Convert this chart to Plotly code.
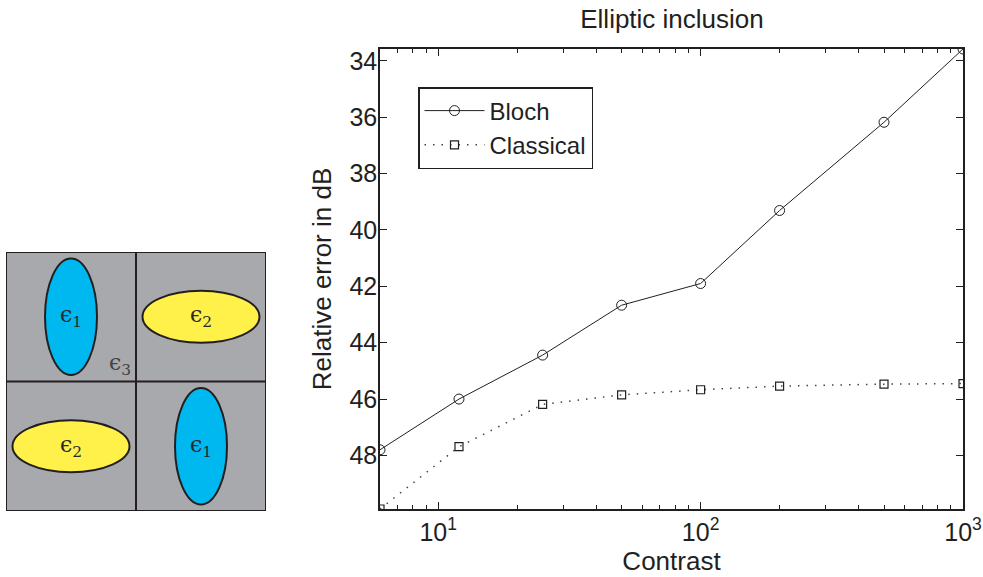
import plotly.graph_objects as go

# ---- data ----
contrast = [6, 12, 25, 50, 100, 200, 500, 1000]
bloch = [47.8, 46.0, 44.44, 42.67, 41.9, 39.31, 36.18, 33.58]
classical = [49.9, 47.69, 46.19, 45.85, 45.67, 45.54, 45.47, 45.45]
y_ticks = [34, 36, 38, 40, 42, 44, 46, 48]
x_tickvals = [10, 100, 1000]
x_ticktext = ["10<sup>1</sup>", "10<sup>2</sup>", "10<sup>3</sup>"]
x_minor = [7, 8, 9, 20, 30, 40, 50, 60, 70, 80, 90,
           200, 300, 400, 500, 600, 700, 800, 900]

# schematic cells: (centre x, centre y, half-width, half-height, colour, label)
inclusions = [
    (0.5, 1.5, 0.2, 0.45, "#00b8f0", "ϵ<sub>1</sub>"),
    (1.5, 1.5, 0.45, 0.2, "#fff04a", "ϵ<sub>2</sub>"),
    (0.5, 0.5, 0.45, 0.2, "#fff04a", "ϵ<sub>2</sub>"),
    (1.5, 0.5, 0.2, 0.45, "#00b8f0", "ϵ<sub>1</sub>"),
]

W, H = 983, 577
FONT = "Liberation Sans, Arial, sans-serif"
INK = "#231f20"

fig = go.Figure()
fig.add_trace(go.Scatter(
    x=contrast, y=bloch, name="Bloch", mode="lines+markers",
    line=dict(color=INK, width=1),
    marker=dict(symbol="circle-open", size=10, color=INK, line=dict(width=1)),
    xaxis="x", yaxis="y"))
fig.add_trace(go.Scatter(
    x=contrast, y=classical, name="Classical", mode="lines+markers",
    line=dict(color="#444", width=1.5, dash="1.5px,7px"),
    marker=dict(symbol="square-open", size=8, color=INK, line=dict(width=1.2)),
    xaxis="x", yaxis="y"))

shapes = []
shapes.append(dict(type="rect", xref="x2", yref="y2", x0=0, y0=0, x1=2, y1=2,
                   fillcolor="#a8a9ad", line=dict(color=INK, width=2), layer="below"))
shapes.append(dict(type="line", xref="x2", yref="y2", x0=1, y0=0, x1=1, y1=2,
                   line=dict(color=INK, width=2)))
shapes.append(dict(type="line", xref="x2", yref="y2", x0=0, y0=1, x1=2, y1=1,
                   line=dict(color=INK, width=2)))
annotations = []
for cx, cy, rx, ry, col, lab in inclusions:
    shapes.append(dict(type="circle", xref="x2", yref="y2",
                       x0=cx - rx, x1=cx + rx, y0=cy - ry, y1=cy + ry,
                       fillcolor=col, line=dict(color=INK, width=2)))
    annotations.append(dict(x=cx, y=cy, xref="x2", yref="y2", text=lab,
                            showarrow=False,
                            font=dict(family="DejaVu Serif, serif", size=22, color="#2a2a2a")))
annotations.append(dict(x=0.88, y=1.13, xref="x2", yref="y2", text="ϵ<sub>3</sub>",
                        showarrow=False,
                        font=dict(family="DejaVu Serif, serif", size=22, color="#444")))

fig.update_layout(
    template="none",
    width=W, height=H, autosize=False,
    margin=dict(l=0, r=0, t=0, b=0, pad=0),
    paper_bgcolor="white", plot_bgcolor="white",
    font=dict(family=FONT, size=24, color=INK),
    showlegend=True,
    legend=dict(x=418 / W, y=1 - 87 / H, xanchor="left", yanchor="top",
                bordercolor=INK, borderwidth=1.5, bgcolor="white",
                font=dict(family=FONT, size=24, color=INK),
                tracegroupgap=0, itemwidth=60),
    title=dict(text="Elliptic inclusion", x=672 / W, y=1 - 19 / H,
               xanchor="center", yanchor="middle",
               font=dict(family=FONT, size=26, color=INK)),
    xaxis=dict(type="log", domain=[380 / W, 963 / W], automargin=False,
               range=[0.77815, 3], tickvals=x_tickvals, ticktext=x_ticktext,
               ticks="inside", ticklen=7, tickcolor=INK, showgrid=False,
               zeroline=False, showline=True, linecolor=INK, linewidth=1.5,
               mirror="allticks", tickfont=dict(family=FONT, size=25, color=INK),
               minor=dict(tickvals=x_minor, ticks="inside", ticklen=4,
                          tickcolor=INK, showgrid=False),
               title=dict(text="Contrast", standoff=0,
                          font=dict(family=FONT, size=26, color=INK)),
               anchor="y"),
    yaxis=dict(domain=[1 - 509 / H, 1 - 49 / H], range=[49.9, 33.58],
               automargin=False, tickfont=dict(family=FONT, size=25, color=INK),
               ticklabelstandoff=-4,
               tickvals=y_ticks, ticks="inside", ticklen=7, tickcolor=INK,
               showgrid=False, zeroline=False, showline=True, linecolor=INK,
               linewidth=1.5, mirror="allticks",
               title=dict(text="Relative error in dB", standoff=10,
                          font=dict(family=FONT, size=26, color=INK)), anchor="x"),
    xaxis2=dict(domain=[6 / W, 266 / W], range=[0, 2], visible=False,
                fixedrange=True, anchor="y2", automargin=False),
    yaxis2=dict(domain=[1 - 511 / H, 1 - 252 / H], range=[0, 2], visible=False,
                fixedrange=True, anchor="x2", automargin=False),
    shapes=shapes,
    annotations=annotations,
)

fig.write_html("out.html", config={"displayModeBar": False},
               post_script="document.body.style.margin='0';")
